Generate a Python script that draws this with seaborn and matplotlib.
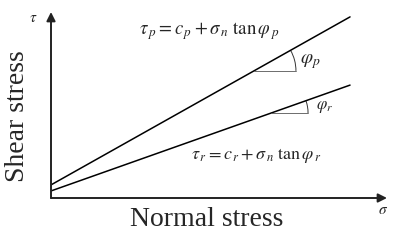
import numpy as np
import pandas as pd
import matplotlib.pyplot as plt
from matplotlib.patches import Arc
import seaborn as sns

# Mohr-Coulomb envelopes: peak and residual
sigma = [0.0, 8.9]
tau_peak = [0.39, 5.39]
tau_resid = [0.21, 3.36]

# where the friction angle is marked on each line
angle_x_peak = 6.04
angle_x_resid = 6.55
arc_r_peak = 1.25
arc_r_resid = 1.1

df = pd.DataFrame({"sigma": sigma * 2,
                   "tau": tau_peak + tau_resid,
                   "kind": ["peak"] * 2 + ["residual"] * 2})

sns.set_style("white")
plt.rcParams["font.family"] = ["Liberation Serif", "DejaVu Serif"]
plt.rcParams["mathtext.fontset"] = "stix"

fig = plt.figure(figsize=(3.95, 2.41), dpi=100)
ax = fig.add_axes([51 / 395, 1 - 198 / 241, 336 / 395, 186 / 241])

sns.lineplot(data=df, x="sigma", y="tau", units="kind", estimator=None,
             color="black", lw=1.1, ax=ax, legend=False)

ax.set_xlim(0, 10)
ax.set_ylim(0, 186 / 33.6)
ax.set_xticks([])
ax.set_yticks([])
ax.set_xlabel("")
ax.set_ylabel("")
for s in ax.spines.values():
    s.set_visible(False)

# axes with arrows
ax.annotate("", xy=(1, 0), xytext=(0, 0), xycoords="axes fraction",
            arrowprops=dict(arrowstyle="-|>", color="#222222", lw=1.4,
                            mutation_scale=13, shrinkA=0, shrinkB=0))
ax.annotate("", xy=(0, 1), xytext=(0, 0), xycoords="axes fraction",
            arrowprops=dict(arrowstyle="-|>", color="#222222", lw=1.4,
                            mutation_scale=13, shrinkA=0, shrinkB=0))


def mark_angle(xs, ys, x0, r, label, lx, ly, size):
    slope = (ys[1] - ys[0]) / (xs[1] - xs[0])
    y0 = ys[0] + slope * (x0 - xs[0])
    ang = np.degrees(np.arctan(slope))
    ax.plot([x0, x0 + r], [y0, y0], color="#555555", lw=0.6)
    ax.add_patch(Arc((x0, y0), 2 * r, 2 * r, theta1=0, theta2=ang,
                     color="#333333", lw=0.7))
    ax.text(lx, ly, label, fontsize=size, ha="left", va="center")


mark_angle(sigma, tau_peak, angle_x_peak, arc_r_peak, r"$\varphi_p$", 7.4, 4.05, 14)
mark_angle(sigma, tau_resid, angle_x_resid, arc_r_resid, r"$\varphi_r$", 7.9, 2.7, 12)

ax.text(4.72, 4.97, r"$\tau_{\,p} = c_{\,p} + \sigma_{\,n}\ \tan\varphi_{\,p}$",
        fontsize=13.5, ha="center", va="center")
ax.text(6.1, 1.25, r"$\tau_{\,r} = c_{\,r} + \sigma_{\,n}\ \tan\varphi_{\,r}$",
        fontsize=13, ha="center", va="center")

fig.text(33 / 395, 1 - 18 / 241, r"$\tau$", fontsize=11, ha="center", va="center")
fig.text(383 / 395, 1 - 210 / 241, r"$\sigma$", fontsize=11, ha="center", va="center")
fig.text(207 / 395, 1 - 220 / 241, "Normal stress", fontsize=20,
         ha="center", va="center")
fig.text(18 / 395, 1 - 116 / 241, "Shear stress", fontsize=20,
         ha="center", va="center", rotation=90)

fig.savefig("out.png", dpi=100)
